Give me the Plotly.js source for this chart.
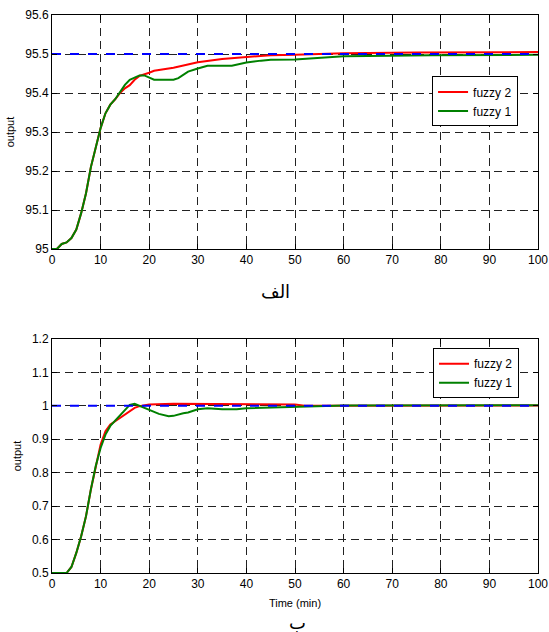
<!DOCTYPE html>
<html><head><meta charset="utf-8">
<script src="https://cdn.plot.ly/plotly-3.0.1.min.js"></script>
<style>body{margin:0;background:#fff}#c{width:549px;height:632px}</style>
</head><body><div id="c"></div>
<script>
// Top chart (الف)
const tTopRed   = [0,1,2,3,4,5,6,7,8,9,10,11,12,13,14,15,16,17,18,20,21,25,30,35,40,45,50,60,75,100];
const yTopRed   = [95.0,95.0,95.013,95.017,95.028,95.05,95.092,95.143,95.21,95.263,95.31,95.348,95.37,95.384,95.40,95.412,95.42,95.434,95.444,95.452,95.457,95.465,95.479,95.487,95.492,95.497,95.498,95.502,95.504,95.505];
const tTopGreen = [0,1,2,3,4,5,6,7,8,9,10,11,12,13,14,15,16,17,18,19,20,21,22,25,26,27,28,30,32,37,40,43,45,50,55,60,65,78,100];
const yTopGreen = [95.0,95.0,95.013,95.017,95.028,95.05,95.092,95.143,95.21,95.263,95.31,95.348,95.37,95.384,95.404,95.421,95.434,95.44,95.445,95.445,95.44,95.434,95.434,95.434,95.438,95.446,95.455,95.463,95.47,95.47,95.478,95.483,95.485,95.486,95.49,95.494,95.495,95.497,95.498];
const tTopSet   = [0,100];
const yTopSet   = [95.5,95.5];
// Bottom chart (ب)
const tBotRed   = [0,1,2,3,4,5,6,7,8,9,10,11,12,13,14,15,16,17,18,20,25,30,32,37,38,50,52,100];
const yBotRed   = [0.5,0.5,0.5,0.5,0.518,0.56,0.61,0.67,0.75,0.82,0.884,0.924,0.944,0.954,0.964,0.974,0.984,0.994,0.999,1.004,1.006,1.006,1.004,1.004,1.006,1.004,1.0,1.001];
const tBotGreen = [0,1,2,3,4,5,6,7,8,9,10,11,12,13,14,15,16,17,18,19,20,22,24,25,27,28,30,32,35,38,40,45,50,55,60,100];
const yBotGreen = [0.5,0.5,0.5,0.5,0.518,0.56,0.61,0.67,0.75,0.82,0.874,0.914,0.94,0.956,0.97,0.988,1.003,1.006,1.0,0.996,0.99,0.976,0.969,0.97,0.978,0.98,0.99,0.993,0.99,0.99,0.993,0.995,0.998,1.0,1.001,1.002];
const tBotSet   = [0,100];
const yBotSet   = [1,1];

const xTicks = [0,10,20,30,40,50,60,70,80,90,100];
const yTopTicks = [95,95.1,95.2,95.3,95.4,95.5,95.6];
const yTopLabels = ['95','95.1','95.2','95.3','95.4','95.5','95.6'];
const yBotTicks = [0.5,0.6,0.7,0.8,0.9,1,1.1,1.2];
const yBotLabels = ['0.5','0.6','0.7','0.8','0.9','1','1.1','1.2'];
const seriesNames = ['fuzzy 2','fuzzy 1'];
const captions = ['الف','ب'];
const xTitle = 'Time (min)';
const yTitle = 'output';

const RED='#ff0000', GREEN='#008000', BLUE='#0000ff';
const traces = [
 {x:tTopRed,y:yTopRed,xaxis:'x',yaxis:'y',name:seriesNames[0],mode:'lines',line:{color:RED,width:2},legend:'legend'},
 {x:tTopGreen,y:yTopGreen,xaxis:'x',yaxis:'y',name:seriesNames[1],mode:'lines',line:{color:GREEN,width:2},legend:'legend'},
 {x:tTopSet,y:yTopSet,xaxis:'x',yaxis:'y',mode:'lines',line:{color:BLUE,width:2,dash:'dash'},showlegend:false},
 {x:tBotRed,y:yBotRed,xaxis:'x2',yaxis:'y2',name:seriesNames[0],mode:'lines',line:{color:RED,width:2},legend:'legend2'},
 {x:tBotGreen,y:yBotGreen,xaxis:'x2',yaxis:'y2',name:seriesNames[1],mode:'lines',line:{color:GREEN,width:2},legend:'legend2'},
 {x:tBotSet,y:yBotSet,xaxis:'x2',yaxis:'y2',mode:'lines',line:{color:BLUE,width:2,dash:'dash'},showlegend:false}
];
const axBase = {showline:true,linecolor:'#000',linewidth:1,mirror:'allticks',ticks:'inside',ticklen:5,tickcolor:'#000',
  showgrid:true,gridcolor:'#222',griddash:'8px,5px',gridwidth:1,zeroline:false,tickfont:{size:12,color:'#000'}};
const legBase = {bgcolor:'#fff',bordercolor:'#000',borderwidth:1,font:{size:12,color:'#000'},xanchor:'left',yanchor:'top',tracegroupgap:0};
const layout = {
  width:549,height:632,
  margin:{l:52,r:11,t:15,b:59},
  paper_bgcolor:'#fff',plot_bgcolor:'#fff',
  font:{family:'Liberation Sans, Arial, sans-serif',color:'#000'},
  xaxis:Object.assign({},axBase,{domain:[0,1],range:[0,100],tickvals:xTicks,anchor:'y'}),
  yaxis:Object.assign({},axBase,{domain:[0.5806,1],range:[95,95.6],tickvals:yTopTicks,ticktext:yTopLabels,anchor:'x',
    title:{text:yTitle,font:{size:11},standoff:8}}),
  xaxis2:Object.assign({},axBase,{domain:[0,1],range:[0,100],tickvals:xTicks,anchor:'y2',
    title:{text:xTitle,font:{size:11},standoff:8}}),
  yaxis2:Object.assign({},axBase,{domain:[0,0.4194],range:[0.5,1.2],tickvals:yBotTicks,ticktext:yBotLabels,anchor:'x2',
    title:{text:yTitle,font:{size:11},standoff:8}}),
  legend:Object.assign({},legBase,{x:0.782,y:0.89}),
  legend2:Object.assign({},legBase,{x:0.784,y:0.403}),
  annotations:[
    {text:captions[0],xref:'paper',yref:'paper',x:(275-52)/486,y:1-(291-15)/558,showarrow:false,font:{size:18,family:'DejaVu Sans'},xanchor:'center',yanchor:'middle'},
    {text:captions[1],xref:'paper',yref:'paper',x:(297-52)/486,y:1-(622-15)/558,showarrow:false,font:{size:18,family:'DejaVu Sans'},xanchor:'center',yanchor:'middle'}
  ],
  showlegend:true
};
Plotly.newPlot('c',traces,layout,{displayModeBar:false,staticPlot:true});
</script></body></html>
